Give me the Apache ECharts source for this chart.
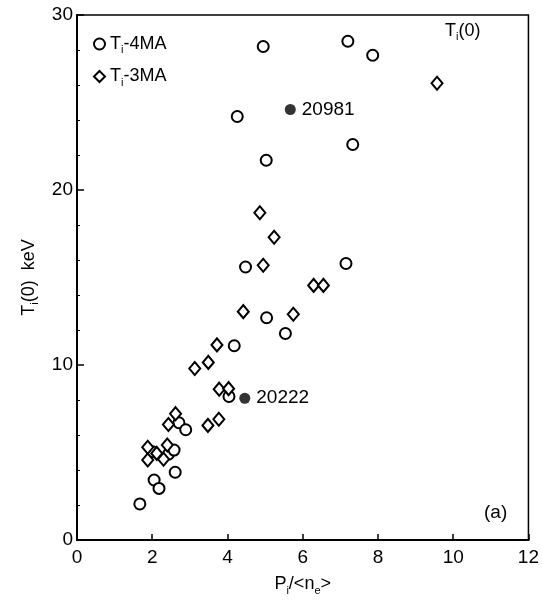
<!DOCTYPE html>
<html><head><meta charset="utf-8">
<script src="https://cdn.jsdelivr.net/npm/echarts@6/dist/echarts.min.js"></script>
<style>html,body{margin:0;padding:0;background:#fff}#c{width:542px;height:601px}</style>
</head><body><div id="c"></div>
<script>
// Ti-4MA (open circles): [P_i/<n_e>, Ti(0) keV]
const ti4MA = [[4.95,28.2],[7.2,28.5],[7.86,27.7],[4.26,24.2],[7.33,22.6],[5.03,21.7],[4.48,15.6],[7.15,15.8],[5.04,12.7],[5.54,11.8],[4.18,11.1],[4.04,8.2],[2.71,6.7],[2.89,6.3],[2.01,5.05],[2.43,4.9],[2.58,5.14],[2.61,3.87],[2.05,3.43],[2.18,2.95],[1.67,2.06]];
// Ti-3MA (open diamonds)
const ti3MA = [[9.57,26.1],[4.86,18.7],[5.24,17.3],[4.95,15.7],[6.29,14.55],[6.55,14.55],[4.42,13.05],[5.75,12.9],[3.72,11.15],[3.49,10.15],[3.13,9.8],[3.78,8.62],[4.03,8.65],[2.62,7.22],[2.43,6.6],[3.48,6.55],[3.77,6.9],[1.88,5.3],[1.88,4.57],[2.12,4.95],[2.3,4.61],[2.4,5.43]];
// Labelled shots (filled circles)
const shotX = [5.67, 4.46];
const shotY = [24.6, 8.1];
const shotNames = ['20981', '20222'];
const xTicks = [0,2,4,6,8,10,12];
const yTicks = [0,10,20,30];

const FONT = 'Liberation Sans, Arial, sans-serif';
const chart = echarts.init(document.getElementById('c'));
const rich = {
  n:{fontSize:18,fontFamily:FONT,color:'#000'},
  s:{fontSize:11,fontFamily:FONT,color:'#000',verticalAlign:'bottom',padding:[12,0,0,0]}
};
chart.setOption({
  animation:false,
  backgroundColor:'#fff',
  grid:{left:77,right:9,top:15,bottom:61,show:true,borderColor:'#000',borderWidth:1.5,backgroundColor:'transparent'},
  legend:{
    orient:'vertical',left:88,top:30,itemGap:12,itemWidth:11,itemHeight:11,
    data:[{name:'Ti-4MA',icon:'circle'},{name:'Ti-3MA',icon:'diamond'}],
    formatter:function(n){return n==='Ti-4MA'?'{n|T}{s|i}{n|-4MA}':'{n|T}{s|i}{n|-3MA}';},
    textStyle:{rich:rich}
  },
  xAxis:{
    type:'value',min:0,max:12,interval:2,
    name:'{n|P}{s|i}{n|/<n}{s|e}{n|>}',nameLocation:'middle',nameGap:33,
    nameTextStyle:{rich:rich},
    axisLine:{lineStyle:{color:'#000',width:2}},
    axisTick:{inside:true,length:6,lineStyle:{color:'#000',width:1.5}},
    axisLabel:{color:'#000',fontSize:19,fontFamily:FONT,margin:8,
      formatter:function(v){return xTicks.indexOf(v)>=0?String(v):'';}},
    splitLine:{show:false}
  },
  yAxis:{
    type:'value',min:0,max:30,interval:10,
    name:'{n|T}{s|i}{n|(0)  keV}',nameLocation:'middle',nameGap:36,nameRotate:90,
    nameTextStyle:{rich:rich},
    axisLine:{lineStyle:{color:'#000',width:2}},
    axisTick:{inside:true,length:7,lineStyle:{color:'#000',width:1.5}},
    minorTick:{show:true,splitNumber:5,length:3,lineStyle:{color:'#000',width:1}},
    axisLabel:{color:'#000',fontSize:19,fontFamily:FONT,margin:4,
      formatter:function(v){return yTicks.indexOf(v)>=0?String(v):'';}},
    splitLine:{show:false}
  },
  series:[
    {name:'Ti-4MA',type:'scatter',symbol:'circle',symbolSize:11,data:ti4MA,
      itemStyle:{color:'#fff',borderColor:'#000',borderWidth:2,opacity:1}},
    {name:'Ti-3MA',type:'scatter',symbol:'diamond',symbolSize:[11,13],data:ti3MA,
      itemStyle:{color:'#fff',borderColor:'#000',borderWidth:2,opacity:1}},
    {name:'shots',type:'scatter',symbol:'circle',symbolSize:11,
      data:shotX.map(function(x,i){return {name:shotNames[i],value:[x,shotY[i]]};}),
      itemStyle:{color:'#000',borderColor:'#000',borderWidth:0},
      label:{show:true,position:'right',distance:6,formatter:'{b}',color:'#000',opacity:1,
        textBorderWidth:0,fontSize:19,fontFamily:FONT}}
  ],
  graphic:[
    {type:'text',left:445,top:22,style:{text:'{n|T}{s|i}{n|(0)}',rich:rich}},
    {type:'text',left:484,top:503,style:{text:'(a)',fontSize:19,fontFamily:FONT,fill:'#000'}}
  ]
});
</script></body></html>
